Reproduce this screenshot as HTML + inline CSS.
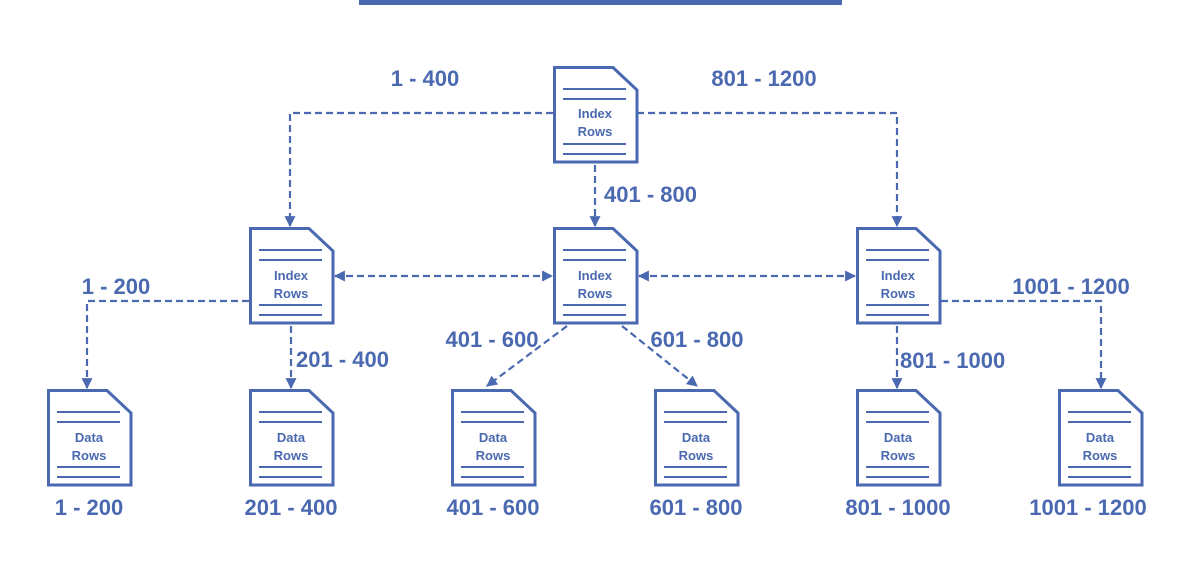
<!DOCTYPE html>
<html><head><style>
html,body{margin:0;padding:0;background:#fff;}
svg{display:block;font-family:"Liberation Sans",sans-serif;}
.l{font-size:22px;font-weight:bold;fill:#4a69b0;}
.t{font-size:13px;font-weight:bold;fill:#4a69b0;}
</style></head><body>
<svg width="1184" height="568" viewBox="0 0 1184 568">
<defs>
<marker id="a" viewBox="0 0 10 10" refX="9" refY="5" markerWidth="5" markerHeight="5" orient="auto-start-reverse"><path d="M0,0L10,5L0,10z" fill="#4a69b0"/></marker>
<g id="doc" fill="none" stroke="#4a69b0" stroke-width="3">
<path d="M1.5,1.5H60L84,24V96H1.5Z" fill="#fff"/>
<path d="M10,23H73M10,33H73M10,78H73M10,88H73" stroke-width="2"/>
</g>
</defs>
<rect x="359" y="0" width="483" height="5" fill="#4a69b0"/>
<g fill="none" stroke="#4a69b0" stroke-width="2.2" stroke-dasharray="7,4" marker-end="url(#a)">
<path d="M553,113H290V226"/>
<path d="M637,113H897V226"/>
<path d="M595,165V226"/>
<path d="M335,276H552" marker-start="url(#a)"/>
<path d="M639,276H855" marker-start="url(#a)"/>
<path d="M249,301H87V388"/>
<path d="M291,326V388"/>
<path d="M567,326L487,386"/>
<path d="M622,326L697,386"/>
<path d="M897,326V388"/>
<path d="M941,301H1101V388"/>
</g>
<g>
<use href="#doc" x="553" y="66"/>
<use href="#doc" x="249" y="227"/><use href="#doc" x="553" y="227"/><use href="#doc" x="856" y="227"/>
<use href="#doc" x="47" y="389"/><use href="#doc" x="249" y="389"/><use href="#doc" x="451" y="389"/>
<use href="#doc" x="654" y="389"/><use href="#doc" x="856" y="389"/><use href="#doc" x="1058" y="389"/>
</g>
<g class="t" text-anchor="middle">
<text x="595" y="118">Index</text><text x="595" y="136">Rows</text>
<text x="291" y="280">Index</text><text x="291" y="298">Rows</text>
<text x="595" y="280">Index</text><text x="595" y="298">Rows</text>
<text x="898" y="280">Index</text><text x="898" y="298">Rows</text>
<text x="89" y="442">Data</text><text x="89" y="460">Rows</text>
<text x="291" y="442">Data</text><text x="291" y="460">Rows</text>
<text x="493" y="442">Data</text><text x="493" y="460">Rows</text>
<text x="696" y="442">Data</text><text x="696" y="460">Rows</text>
<text x="898" y="442">Data</text><text x="898" y="460">Rows</text>
<text x="1100" y="442">Data</text><text x="1100" y="460">Rows</text>
</g>
<g class="l">
<text x="425" y="86" text-anchor="middle">1 - 400</text>
<text x="764" y="86" text-anchor="middle">801 - 1200</text>
<text x="604" y="202">401 - 800</text>
<text x="116" y="294" text-anchor="middle">1 - 200</text>
<text x="296" y="367">201 - 400</text>
<text x="492" y="347" text-anchor="middle">401 - 600</text>
<text x="697" y="347" text-anchor="middle">601 - 800</text>
<text x="900" y="368">801 - 1000</text>
<text x="1071" y="294" text-anchor="middle">1001 - 1200</text>
<text x="89" y="515" text-anchor="middle">1 - 200</text>
<text x="291" y="515" text-anchor="middle">201 - 400</text>
<text x="493" y="515" text-anchor="middle">401 - 600</text>
<text x="696" y="515" text-anchor="middle">601 - 800</text>
<text x="898" y="515" text-anchor="middle">801 - 1000</text>
<text x="1088" y="515" text-anchor="middle">1001 - 1200</text>
</g>
</svg>
</body></html>
